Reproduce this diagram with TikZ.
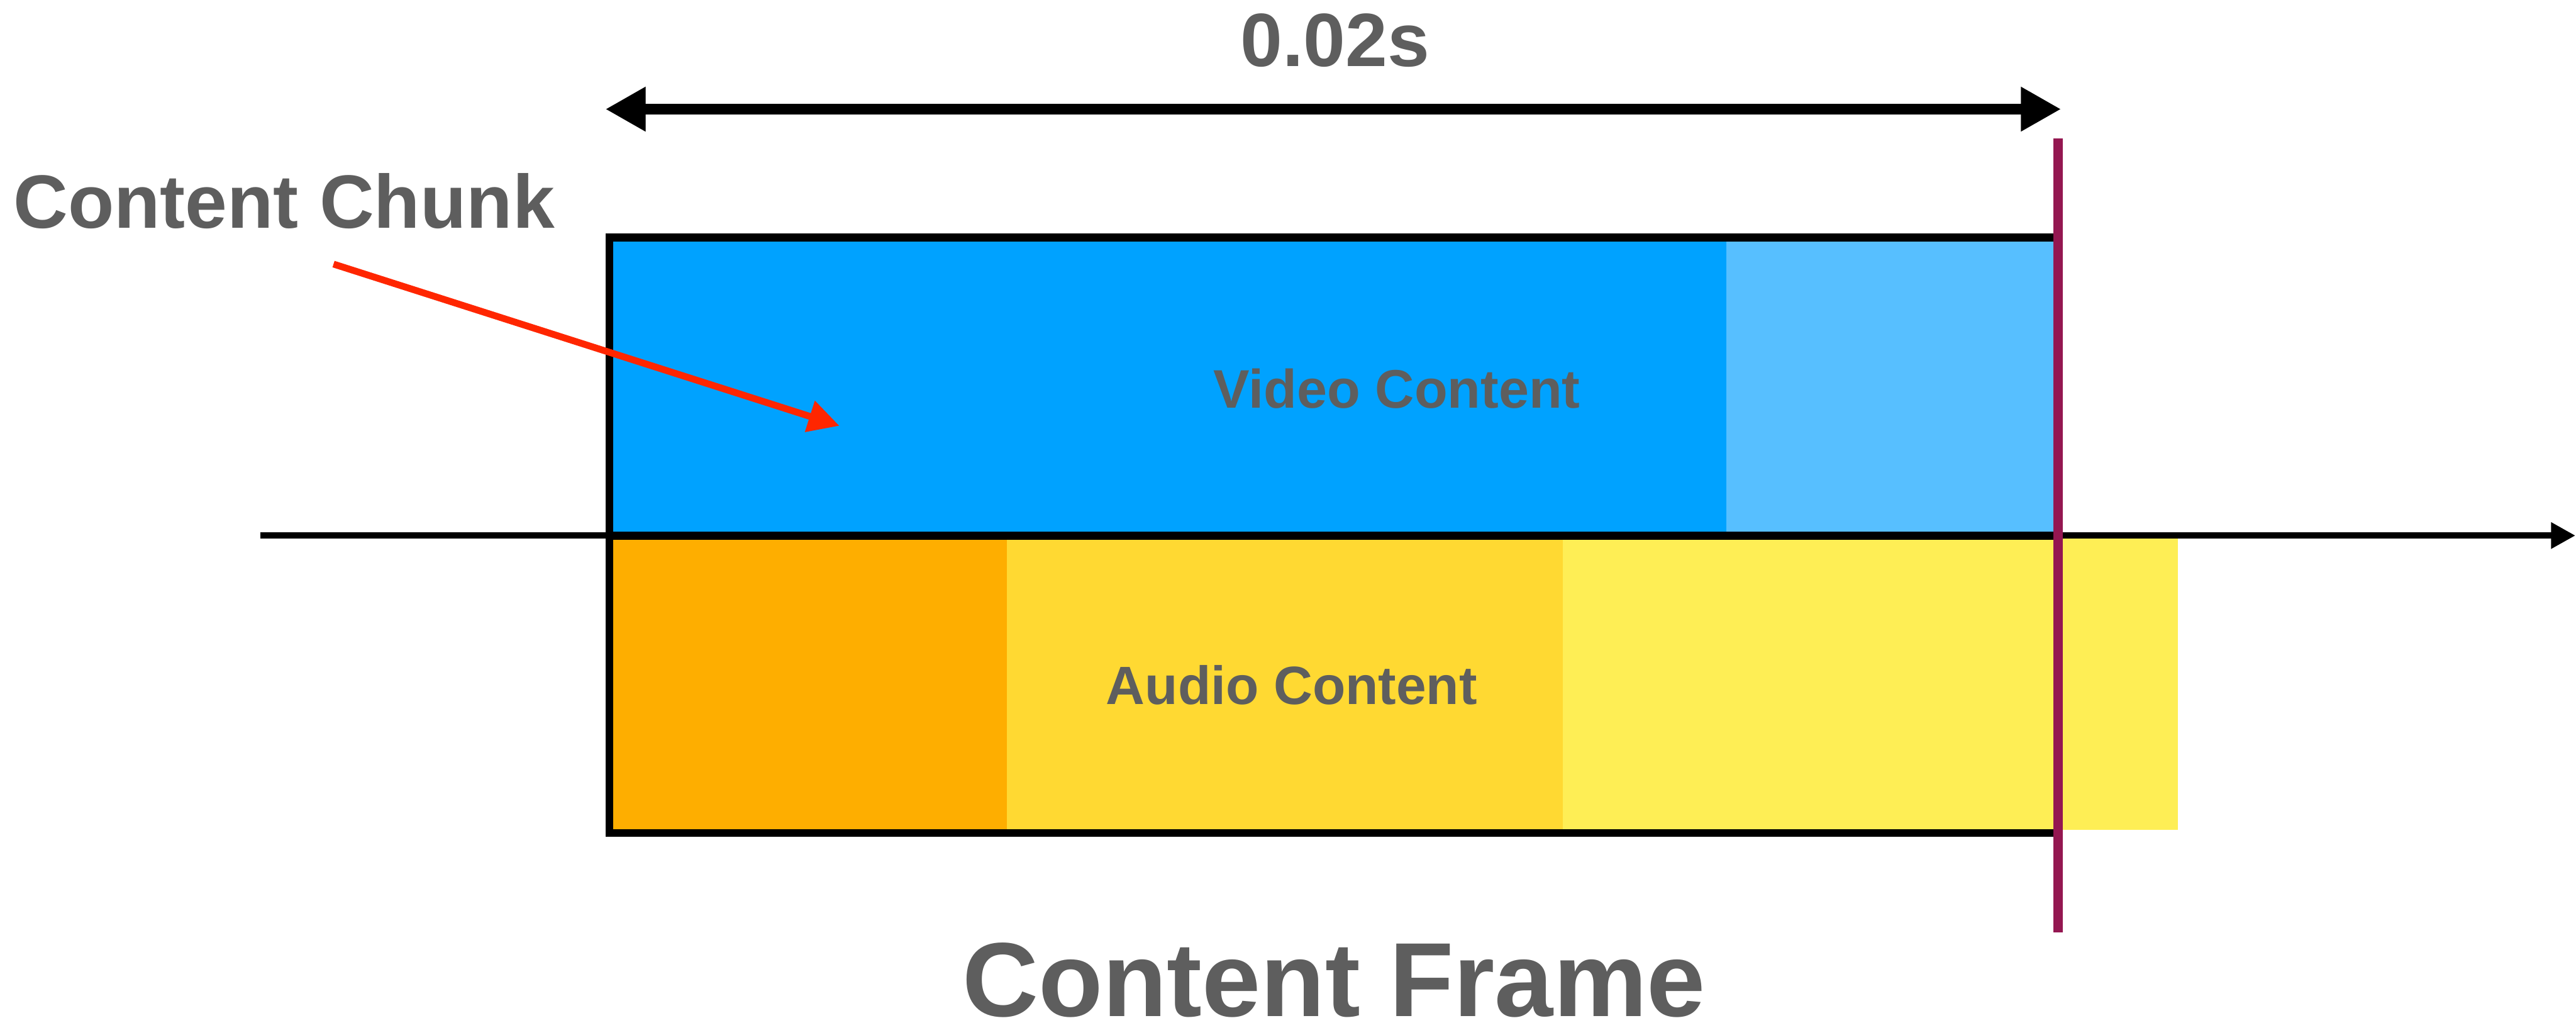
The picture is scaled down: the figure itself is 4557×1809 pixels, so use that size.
\documentclass[tikz,border=0pt]{standalone}
\usepackage{fontspec}
\setmainfont{Liberation Sans}
\usetikzlibrary{arrows.meta}
\definecolor{vdark}{HTML}{00A2FF}
\definecolor{vlight}{HTML}{57BFFF}
\definecolor{aorange}{HTML}{FEAE00}
\definecolor{agold}{HTML}{FFD932}
\definecolor{ayellow}{HTML}{FEEE55}
\definecolor{framepurple}{HTML}{941751}
\definecolor{txtgray}{HTML}{5E5E5E}
\definecolor{chunkred}{HTML}{FF2600}
\tikzset{
  lbl/.style={text=txtgray, font=\bfseries, inner sep=0pt, anchor=base},
  boxline/.style={draw=black, line width=0.14cm},
}
\begin{document}
\begin{tikzpicture}[x=0.01cm, y=-0.01cm]
\useasboundingbox (0,0) rectangle (4557,1809);
% fills
\fill[vdark] (1079,420) rectangle (3054,947);
\fill[vlight] (3054,420) rectangle (3641,947);
\fill[aorange] (1079,947) rectangle (1781,1473);
\fill[agold] (1781,947) rectangle (2765,1473);
\fill[ayellow] (2765,947) rectangle (3853,1467);
% frame boxes
\node[boxline, minimum width=25.62cm, minimum height=5.27cm, inner sep=0pt] (video) at (2360,683.5) {};
\node[boxline, minimum width=25.62cm, minimum height=5.26cm, inner sep=0pt] (audio) at (2360,1210) {};
% time axis
\coordinate (axL) at (461,947);
\coordinate (axR) at (4556,947);
\draw[line width=0.11cm, -{Triangle[length=0.43cm, width=0.44cm]}] (axL) -- (axR);
% duration arrow
\coordinate (durL) at (1071,193);
\coordinate (durR) at (3646,193);
\draw[line width=0.18cm, {Triangle[length=0.71cm, width=0.74cm]}-{Triangle[length=0.71cm, width=0.74cm]}] (durL) -- (durR);
\node[lbl, font=\fontsize{38}{40}\selectfont\bfseries] (dur) at (2362,117) {0.02s};
% frame boundary
\coordinate (fbT) at (3641,245);
\coordinate (fbB) at (3641,1649);
\draw[framepurple, line width=0.17cm] (fbT) -- (fbB);
% labels
\node[lbl, anchor=base west, font=\fontsize{38}{40}\selectfont\bfseries] (chunk) at (23,403) {Content Chunk};
\node[lbl, font=\fontsize{27.3}{29}\selectfont\bfseries] (vtxt) at (2471,722) {Video Content};
\node[lbl, font=\fontsize{27.1}{29}\selectfont\bfseries] (atxt) at (2285,1245) {Audio Content};
\node[lbl, text depth=0pt, font=\fontsize{53}{56}\selectfont\bfseries] (ftxt) at (2360,1797) {Content Frame};
% pointer arrow
\coordinate (ptrS) at (590,467);
\coordinate (ptrE) at (1485,753);
\draw[chunkred, line width=0.12cm, -{Triangle[length=0.55cm, width=0.55cm]}] (ptrS) -- (ptrE);
\end{tikzpicture}
\end{document}
